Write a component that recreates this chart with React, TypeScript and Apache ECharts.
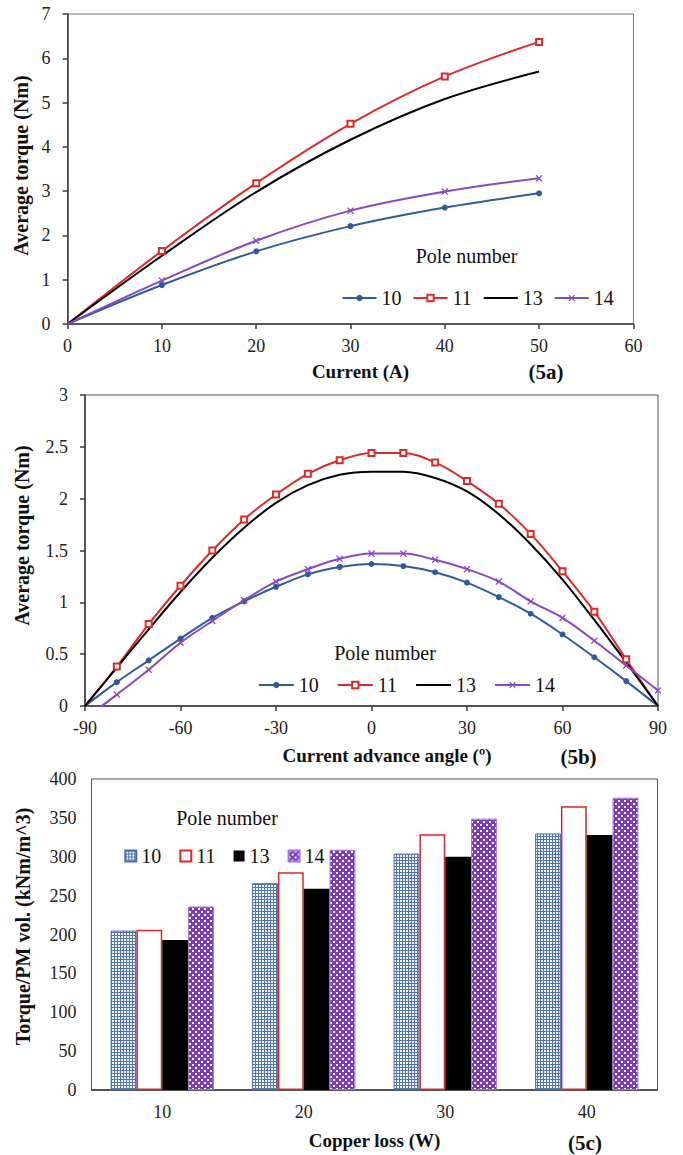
import React, { useEffect, useRef } from "react";
import * as echarts from "echarts";

const SERIF = "Liberation Serif";

// (5a) average torque against phase current
const currentA = [0, 10, 20, 30, 40, 50];
const torqueVsCurrent10 = [0, 0.88, 1.64, 2.21, 2.63, 2.95];
const torqueVsCurrent11 = [0, 1.65, 3.18, 4.52, 5.59, 6.37];
const torqueVsCurrent13 = [0, 1.54, 2.98, 4.16, 5.08, 5.7];
const torqueVsCurrent14 = [0, 0.98, 1.88, 2.56, 2.99, 3.29];

// (5b) average torque against current advance angle
const advanceAngle = [-90, -80, -70, -60, -50, -40, -30, -20, -10, 0, 10, 20, 30, 40, 50, 60, 70, 80, 90];
const torqueVsAngle10 = [0, 0.23, 0.44, 0.65, 0.85, 1.01, 1.15, 1.27, 1.34, 1.37, 1.35, 1.29, 1.19, 1.05, 0.89, 0.69, 0.47, 0.24, 0];
const torqueVsAngle11 = [0, 0.38, 0.79, 1.16, 1.5, 1.8, 2.04, 2.24, 2.37, 2.44, 2.44, 2.35, 2.17, 1.95, 1.66, 1.3, 0.91, 0.45, 0];
const torqueVsAngle13 = [0, 0.37, 0.74, 1.1, 1.43, 1.72, 1.96, 2.13, 2.23, 2.26, 2.26, 2.2, 2.07, 1.85, 1.56, 1.22, 0.83, 0.42, 0];
const torqueVsAngle14 = [-0.12, 0.11, 0.35, 0.61, 0.82, 1.02, 1.2, 1.32, 1.42, 1.47, 1.47, 1.41, 1.32, 1.2, 1.01, 0.85, 0.63, 0.39, 0.15];

// (5c) torque per PM volume against copper loss
const copperLoss = ["10", "20", "30", "40"];
const densityPole10 = [205, 266, 304, 330];
const densityPole11 = [206, 280, 329, 365];
const densityPole13 = [193, 259, 300, 328];
const densityPole14 = [236, 309, 349, 376];

const poleNames = ["10", "11", "13", "14"];

const BLUE = "#2f5c97";
const RED = "#dc2a2a";
const BLACK = "#000000";
const PURPLE = "#8748c4";

const CROSS_SYMBOL =
  "path://M0,1.3L1.3,0L5,3.7L8.7,0L10,1.3L6.3,5L10,8.7L8.7,10L5,6.3L1.3,10L0,8.7L3.7,5Z";

const AXIS_LINE = { onZero: false, lineStyle: { color: "#3a3a3a", width: 1.5 } };
const AXIS_TICK = { inside: false, length: 5, lineStyle: { color: "#3a3a3a", width: 1.5 } };
const TICK_LABEL = { color: "#222", fontFamily: SERIF, fontWeight: "normal", fontSize: 18 };
const LEGEND_TEXT = { color: "#111", fontFamily: SERIF, fontWeight: "normal", fontSize: 20 };

function nameStyle(size: number, shift: number) {
  return {
    color: "#111",
    fontFamily: SERIF,
    fontWeight: "bold" as const,
    fontSize: size,
    padding: [0, 0, 0, shift],
  };
}

function points(xs: number[], ys: number[], hidden: number[]) {
  return xs.map((x, i) =>
    hidden.includes(i) ? { value: [x, ys[i]], symbol: "none" } : { value: [x, ys[i]] }
  );
}

function lineSeries(name: string, color: string, data: any[], symbol: string, size: number) {
  const empty = symbol.startsWith("empty");
  return {
    type: "line",
    name,
    data,
    smooth: 0.35,
    clip: true,
    symbol,
    symbolSize: size,
    showSymbol: symbol !== "none",
    color,
    lineStyle: { color, width: 2 },
    itemStyle: empty
      ? { color, borderColor: color, borderWidth: 1.2 }
      : { color, borderWidth: 0 },
    emphasis: { disabled: true },
    z: 3,
  };
}

// legend entries; the 13-pole curve has no markers, so its key shows the line only
const lineLegendData = poleNames.map((n) =>
  n === "13" ? { name: n, itemStyle: { opacity: 0 } } : { name: n }
);

function annotations(pole: [number, number], tag: string, tagPos: [number, number]) {
  return [
    {
      type: "text",
      x: pole[0],
      y: pole[1],
      style: {
        text: "Pole number",
        fontFamily: SERIF,
        fontWeight: "normal",
        fontSize: 20,
        fill: "#111",
        align: "center",
        verticalAlign: "middle",
      },
    },
    {
      type: "text",
      x: tagPos[0],
      y: tagPos[1],
      style: {
        text: tag,
        fontFamily: SERIF,
        fontSize: 21,
        fontWeight: "bold",
        fill: "#111",
        align: "center",
        verticalAlign: "middle",
      },
    },
  ];
}

function optionCurrent() {
  const hide = [0];
  return {
    animation: false,
    backgroundColor: "#fff",
    textStyle: { fontFamily: SERIF },
    grid: { left: 67.6, top: 14, width: 565.8, height: 315.3, show: true, borderColor: "#777", borderWidth: 1 },
    xAxis: {
      type: "value",
      min: 0,
      max: 60,
      interval: 10,
      name: "Current (A)",
      nameLocation: "middle",
      nameGap: 38,
      nameTextStyle: nameStyle(19, 20),
      axisLine: AXIS_LINE,
      axisTick: AXIS_TICK,
      axisLabel: { ...TICK_LABEL, margin: 13 },
      splitLine: { show: false },
    },
    yAxis: {
      type: "value",
      min: 0,
      max: 7,
      interval: 1,
      name: "Average torque (Nm)",
      nameLocation: "middle",
      nameGap: 36,
      nameTextStyle: nameStyle(20, 7),
      axisLine: AXIS_LINE,
      axisTick: AXIS_TICK,
      axisLabel: { ...TICK_LABEL, margin: 17 },
      splitLine: { show: false },
    },
    legend: {
      data: lineLegendData,
      left: 336.5,
      top: 283,
      itemWidth: 34,
      itemHeight: 8,
      itemGap: 11,
      textStyle: LEGEND_TEXT,
      selectedMode: false,
    },
    graphic: annotations([466.5, 256], "(5a)", [546, 372]),
    series: [
      lineSeries("10", BLUE, points(currentA, torqueVsCurrent10, hide), "circle", 6),
      lineSeries("11", RED, points(currentA, torqueVsCurrent11, hide), "emptyRect", 6),
      lineSeries("13", BLACK, points(currentA, torqueVsCurrent13, hide), "none", 0),
      lineSeries("14", PURPLE, points(currentA, torqueVsCurrent14, hide), CROSS_SYMBOL, 7),
    ],
  };
}

function optionAngle() {
  const ends = [0, advanceAngle.length - 1];
  return {
    animation: false,
    backgroundColor: "#fff",
    textStyle: { fontFamily: SERIF },
    grid: { left: 85, top: 8, width: 573, height: 316.7, show: true, borderColor: "#555", borderWidth: 1 },
    xAxis: {
      type: "value",
      min: -90,
      max: 90,
      interval: 30,
      name: "Current advance angle (º)",
      nameLocation: "middle",
      nameGap: 40,
      nameTextStyle: nameStyle(19, 31),
      axisLine: AXIS_LINE,
      axisTick: AXIS_TICK,
      axisLabel: { ...TICK_LABEL, margin: 13 },
      splitLine: { show: false },
    },
    yAxis: {
      type: "value",
      min: 0,
      max: 3,
      interval: 0.5,
      name: "Average torque (Nm)",
      nameLocation: "middle",
      nameGap: 53,
      nameTextStyle: nameStyle(20, 30),
      axisLine: AXIS_LINE,
      axisTick: AXIS_TICK,
      axisLabel: { ...TICK_LABEL, margin: 17 },
      splitLine: { show: false },
    },
    legend: {
      data: lineLegendData,
      left: 252.8,
      top: 284,
      itemWidth: 35,
      itemHeight: 8,
      itemGap: 18,
      textStyle: LEGEND_TEXT,
      selectedMode: false,
    },
    graphic: annotations([385, 267], "(5b)", [578.5, 371]),
    series: [
      lineSeries("10", BLUE, points(advanceAngle, torqueVsAngle10, ends), "circle", 6),
      lineSeries("11", RED, points(advanceAngle, torqueVsAngle11, ends), "emptyRect", 6),
      lineSeries("13", BLACK, points(advanceAngle, torqueVsAngle13, ends), "none", 0),
      lineSeries("14", PURPLE, points(advanceAngle, torqueVsAngle14, []), CROSS_SYMBOL, 7),
    ],
  };
}

function tile(size: number, paint: (ctx: CanvasRenderingContext2D) => void) {
  const canvas = document.createElement("canvas");
  canvas.width = size;
  canvas.height = size;
  const ctx = canvas.getContext("2d")!;
  paint(ctx);
  return { image: canvas.toDataURL(), imageWidth: size, imageHeight: size, repeat: "repeat" };
}

function optionCopperLoss() {
  // small grid fill for the 10-pole bars
  const gridFill = tile(3, (ctx) => {
    ctx.fillStyle = "#f2f5fb";
    ctx.fillRect(0, 0, 3, 3);
    ctx.fillStyle = "#5277b0";
    ctx.fillRect(0, 0, 3, 1);
    ctx.fillRect(0, 0, 1, 3);
  });
  // dotted checker fill for the 14-pole bars
  const checkFill = tile(6, (ctx) => {
    ctx.fillStyle = "#7d3cbc";
    ctx.fillRect(0, 0, 6, 6);
    ctx.fillStyle = "#ffffff";
    ctx.fillRect(0, 0, 2, 2);
    ctx.fillRect(3, 3, 2, 2);
  });

  const bar = (name: string, data: number[], itemStyle: any) => ({
    type: "bar",
    name,
    data,
    barGap: "0%",
    barCategoryGap: "27%",
    itemStyle,
    emphasis: { disabled: true },
  });

  return {
    animation: false,
    backgroundColor: "#fff",
    textStyle: { fontFamily: SERIF },
    grid: { left: 91.5, top: 9, width: 566, height: 316, show: true, borderColor: "#555", borderWidth: 1 },
    xAxis: {
      type: "category",
      data: copperLoss,
      name: "Copper loss (W)",
      nameLocation: "middle",
      nameGap: 41,
      nameTextStyle: nameStyle(19, 0),
      axisLine: AXIS_LINE,
      axisTick: { ...AXIS_TICK, length: 6 },
      axisLabel: { ...TICK_LABEL, margin: 13 },
      splitLine: { show: false },
    },
    yAxis: {
      type: "value",
      min: 0,
      max: 400,
      interval: 50,
      name: "Torque/PM vol. (kNm/m^3)",
      nameLocation: "middle",
      nameGap: 59,
      nameTextStyle: nameStyle(20, 16),
      axisLine: AXIS_LINE,
      axisTick: AXIS_TICK,
      axisLabel: { ...TICK_LABEL, margin: 15 },
      splitLine: { show: false },
    },
    legend: {
      data: poleNames,
      left: 119.3,
      top: 71,
      icon: "rect",
      itemWidth: 11,
      itemHeight: 11,
      itemGap: 18,
      textStyle: LEGEND_TEXT,
      selectedMode: false,
    },
    graphic: annotations([227, 48], "(5c)", [585, 373]),
    series: [
      bar("10", densityPole10, { color: gridFill, borderColor: "#4a6fa8", borderWidth: 1 }),
      bar("11", densityPole11, { color: "#ffffff", borderColor: "#e0262b", borderWidth: 1.5 }),
      bar("13", densityPole13, { color: "#000000" }),
      bar("14", densityPole14, { color: checkFill, borderColor: "#a27ad6", borderWidth: 1 }),
    ],
  };
}

export default function App() {
  const refA = useRef<HTMLDivElement>(null);
  const refB = useRef<HTMLDivElement>(null);
  const refC = useRef<HTMLDivElement>(null);

  useEffect(() => {
    const charts = [
      echarts.init(refA.current!, null, { renderer: "svg" }),
      echarts.init(refB.current!, null, { renderer: "svg" }),
      echarts.init(refC.current!, null, { renderer: "svg" }),
    ];
    charts[0].setOption(optionCurrent() as any);
    charts[1].setOption(optionAngle() as any);
    charts[2].setOption(optionCopperLoss() as any);
    return () => charts.forEach((c) => c.dispose());
  }, []);

  return (
    <div
      style={{
        position: "absolute",
        left: 0,
        top: 0,
        width: 683,
        height: 1155,
        background: "#fff",
        fontFamily: "'Liberation Serif', serif",
      }}
    >
      <div ref={refA} style={{ position: "absolute", left: 0, top: 0, width: 683, height: 386 }} />
      <div ref={refB} style={{ position: "absolute", left: 0, top: 386, width: 683, height: 384 }} />
      <div ref={refC} style={{ position: "absolute", left: 0, top: 770, width: 683, height: 385 }} />
    </div>
  );
}
